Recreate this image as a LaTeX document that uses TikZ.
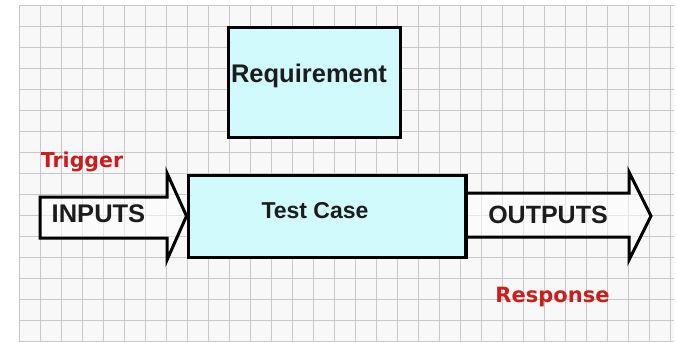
\documentclass[tikz,border=0pt]{standalone}
\usepackage{fontspec}
\setmainfont{Liberation Sans}
\newfontfamily\lblfont{DejaVu Sans}
\definecolor{boxfill}{RGB}{208,250,252}
\definecolor{gridcol}{RGB}{200,200,200}
\definecolor{lblred}{RGB}{205,28,28}
\definecolor{txtcol}{RGB}{28,28,28}
\definecolor{paper}{RGB}{248,248,248}
\tikzset{
  gridline/.style={draw=gridcol, line width=1pt},
  box/.style={draw=black, fill=boxfill, line width=3pt, rectangle, inner sep=0pt},
  bigarrow/.style={draw=black, line width=3pt, line join=miter, fill=white, fill opacity=0.55},
  boxtext/.style={inner sep=0pt, anchor=base, text=txtcol, font=\bfseries},
  redlabel/.style={inner sep=0pt, anchor=base, text=lblred, font=\lblfont\bfseries},
}
\begin{document}
\begin{tikzpicture}[x=1pt, y=-1pt]
\useasboundingbox (0,0) rectangle (677,341);
\fill[white] (0,0) rectangle (677,341);
\fill[paper] (19,5) rectangle (674,341);
\foreach \k in {0,...,31} { \draw[gridline] ({19+21*\k},5) -- ({19+21*\k},341); }
\foreach \k in {0,...,16} { \draw[gridline] (19,{5+21*\k}) -- (674,{5+21*\k}); }

% boxes
\node[box, minimum width=172pt, minimum height=110pt] (req) at (314,82) {};
\node[box, minimum width=277pt, minimum height=82pt] (tc) at (326.5,216) {};

% inputs arrow
\coordinate (inL) at (40,217);
\draw[bigarrow] (inL |- 0,197) -- (167,197) -- (167,173) -- (tc.west) -- (167,260) -- (167,238) -- (inL |- 0,238) -- cycle;
% outputs arrow
\coordinate (outTip) at (651,216);
\draw[bigarrow] (tc.east |- 0,193) -- (629,193) -- (629,172) -- (outTip) -- (629,260) -- (629,237) -- (tc.east |- 0,237);
\draw[draw=black, line width=3pt] (tc.north east) -- (tc.south east);

% texts
\node[boxtext, font=\bfseries\fontsize{25.5}{30}\selectfont] (reqtext) at (309,82) {Requirement};
\node[boxtext, font=\bfseries\fontsize{23}{27}\selectfont] (tctext) at (315,218) {Test Case};
\node[boxtext, font=\bfseries\fontsize{25.5}{30}\selectfont] (intext) at (98.5,222) {INPUTS};
\node[boxtext, font=\bfseries\fontsize{25}{30}\selectfont] (outtext) at (548,223) {OUTPUTS};
\node[redlabel, font=\lblfont\bfseries\fontsize{20.5}{24}\selectfont] (trig) at (82,167) {Trigger};
\node[redlabel, font=\lblfont\bfseries\fontsize{21}{24}\selectfont] (resp) at (552.5,302) {Response};
\end{tikzpicture}
\end{document}
